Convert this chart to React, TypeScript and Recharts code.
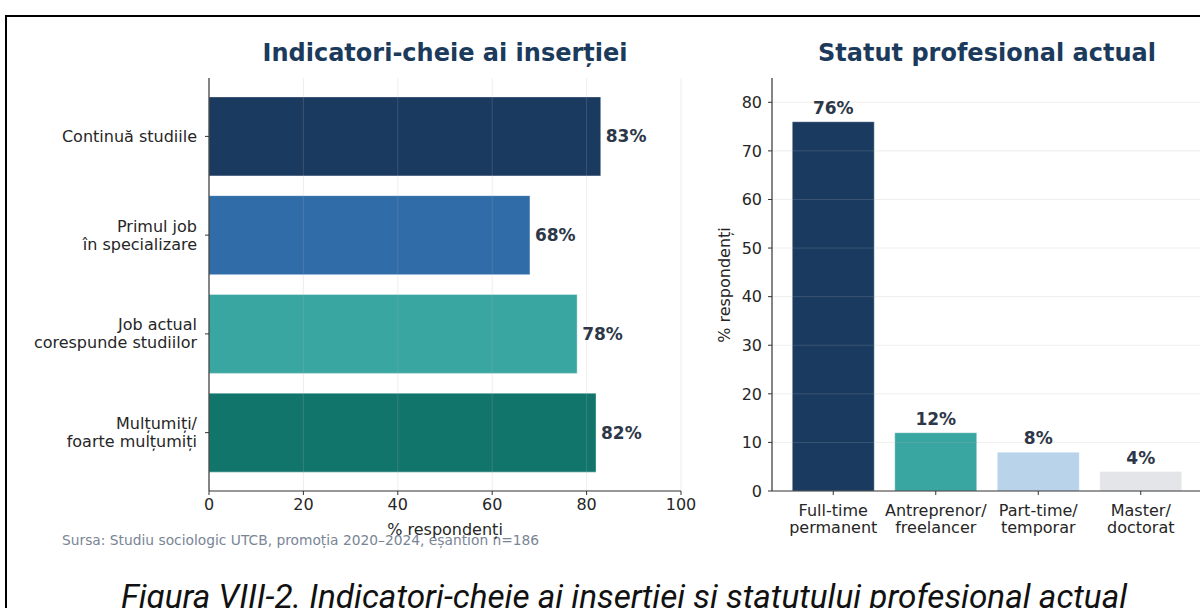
import { BarChart, Bar, XAxis, YAxis, Cell, LabelList, ReferenceLine } from 'recharts'

const INDICATORS = ['Continuă studiile', 'Primul job\nîn specializare', 'Job actual\ncorespunde studiilor', 'Mulțumiți/\nfoarte mulțumiți']
const INDICATOR_VALUES = [83, 68, 78, 82]
const INDICATOR_COLORS = ['#1a3a5f', '#2f6ca8', '#3aa6a1', '#12756c']
const X_TICKS = [0, 20, 40, 60, 80, 100]

const STATUSES = ['Full-time\npermanent', 'Antreprenor/\nfreelancer', 'Part-time/\ntemporar', 'Master/\ndoctorat']
const STATUS_VALUES = [76, 12, 8, 4]
const STATUS_COLORS = ['#1a3a5f', '#3aa6a1', '#b9d3ea', '#e3e5e9']
const Y_TICKS = [0, 10, 20, 30, 40, 50, 60, 70, 80]

const FONT = '"DejaVu Sans", sans-serif'
const INK = '#262626'
const AXIS = '#333333'
const TITLE = '#1b3a5c'
const LABEL = '#2d3748'
const TICK_SIZE = 16

const indicatorData = INDICATORS.map((label, i) => ({ label, value: INDICATOR_VALUES[i], fill: INDICATOR_COLORS[i] }))
const statusData = STATUSES.map((label, i) => ({ label, value: STATUS_VALUES[i], fill: STATUS_COLORS[i] }))

function LeftTick(props: any) {
  const { x, y, payload } = props
  const lines = String(payload.value).split('\n')
  const lh = 18
  const start = y - ((lines.length - 1) * lh) / 2
  return (
    <text x={x} y={start} textAnchor="end" fontFamily={FONT} fontSize={TICK_SIZE} fill={INK}>
      {lines.map((l, i) => (
        <tspan key={i} x={x} y={start + i * lh + 5.5}>{l}</tspan>
      ))}
    </text>
  )
}

function BottomTick(props: any) {
  const { x, y, payload } = props
  const lines = String(payload.value).split('\n')
  const lh = 17
  return (
    <text x={x} y={y} textAnchor="middle" fontFamily={FONT} fontSize={TICK_SIZE} fill={INK}>
      {lines.map((l, i) => (
        <tspan key={i} x={x} y={y + 18.5 + i * lh}>{l}</tspan>
      ))}
    </text>
  )
}

const tickStyle = { fontFamily: FONT, fontSize: TICK_SIZE, fill: INK }
const valueStyle = { fontFamily: FONT, fontSize: 17, fontWeight: 700, fill: LABEL }

function IndicatorsChart() {
  return (
    <BarChart
      width={700}
      height={560}
      data={indicatorData}
      layout="vertical"
      margin={{ top: 78, right: 19, bottom: 39, left: 0 }}
      barCategoryGap="10%"
    >
      <XAxis
        type="number"
        domain={[0, 100]}
        ticks={X_TICKS}
        interval={0}
        height={30}
        tickSize={4}
        tickMargin={4}
        tick={tickStyle}
        axisLine={{ stroke: AXIS, strokeWidth: 1.2 }}
        tickLine={{ stroke: AXIS }}
      />
      <YAxis
        type="category"
        dataKey="label"
        width={209}
        padding={{ top: 9, bottom: 9 }}
        interval={0}
        tickSize={4}
        tickMargin={8}
        tick={<LeftTick />}
        axisLine={{ stroke: AXIS, strokeWidth: 1.2 }}
        tickLine={{ stroke: AXIS }}
      />
      <Bar dataKey="value" isAnimationActive={false} stroke="#ffffff" strokeOpacity={0.5} strokeWidth={0.8}>
        {indicatorData.map((d) => (
          <Cell key={d.label} fill={d.fill} />
        ))}
        <LabelList dataKey="value" position="right" offset={5} formatter={(v: any) => `${v}%`} style={valueStyle} />
      </Bar>
      {X_TICKS.slice(1).map((t) => (
        <ReferenceLine key={t} x={t} stroke="#b0b0b0" strokeOpacity={0.22} strokeWidth={1} />
      ))}
    </BarChart>
  )
}

function StatusChart() {
  return (
    <BarChart
      width={520}
      height={560}
      data={statusData}
      margin={{ top: 78, right: 18, bottom: 39, left: 0 }}
      barCategoryGap="10%"
    >
      <XAxis
        type="category"
        dataKey="label"
        height={30}
        padding={{ left: 10, right: 10 }}
        interval={0}
        tickSize={4}
        tickMargin={2}
        tick={<BottomTick />}
        axisLine={{ stroke: AXIS, strokeWidth: 1.2 }}
        tickLine={{ stroke: AXIS }}
      />
      <YAxis
        type="number"
        domain={[0, 85]}
        ticks={Y_TICKS}
        interval={0}
        width={72}
        tickSize={4}
        tickMargin={6}
        tick={tickStyle}
        axisLine={{ stroke: AXIS, strokeWidth: 1.2 }}
        tickLine={{ stroke: AXIS }}
      />
      <Bar dataKey="value" isAnimationActive={false} stroke="#ffffff" strokeOpacity={0.5} strokeWidth={0.8}>
        {statusData.map((d) => (
          <Cell key={d.label} fill={d.fill} />
        ))}
        <LabelList dataKey="value" position="top" offset={8} formatter={(v: any) => `${v}%`} style={valueStyle} />
      </Bar>
      {Y_TICKS.slice(1).map((t) => (
        <ReferenceLine key={t} y={t} stroke="#b0b0b0" strokeOpacity={0.22} strokeWidth={1} />
      ))}
    </BarChart>
  )
}

const abs = (style: React.CSSProperties): React.CSSProperties => ({ position: 'absolute', whiteSpace: 'nowrap', ...style })

export default function App() {
  return (
    <div style={{ position: 'absolute', left: 0, top: 0, width: 1200, height: 608, overflow: 'hidden', background: '#fff' }}>
      <div style={abs({ left: 5, top: 15, width: 1400, height: 800, border: '2px solid #000' })} />
      <div style={abs({ left: 0, top: 0 })}>
        <IndicatorsChart />
      </div>
      <div style={abs({ left: 700, top: 0 })}>
        <StatusChart />
      </div>
      <div style={abs({ left: 445, top: 53, transform: 'translate(-50%, -50%)', fontFamily: FONT, fontWeight: 700, fontSize: 24, color: TITLE })}>
        Indicatori-cheie ai inserției
      </div>
      <div style={abs({ left: 987, top: 53, transform: 'translate(-50%, -50%)', fontFamily: FONT, fontWeight: 700, fontSize: 24, color: TITLE })}>
        Statut profesional actual
      </div>
      <div style={abs({ left: 62, top: 540, transform: 'translateY(-50%)', fontFamily: FONT, fontSize: 13.8, color: '#7a8595' })}>
        Sursa: Studiu sociologic UTCB, promoția 2020–2024, eșantion n=186
      </div>
      <div style={abs({ left: 445, top: 529, transform: 'translate(-50%, -50%)', fontFamily: FONT, fontSize: TICK_SIZE, color: INK })}>
        % respondenți
      </div>
      <div style={abs({ left: 724, top: 285, transform: 'translate(-50%, -50%) rotate(-90deg)', fontFamily: FONT, fontSize: TICK_SIZE, color: INK })}>
        % respondenți
      </div>
      <div style={abs({ left: 624, top: 596, transform: 'translate(-50%, -50%)', fontFamily: 'Roboto, sans-serif', fontStyle: 'italic', fontSize: 33.3, color: '#111' })}>
        Figura VIII-2. Indicatori-cheie ai inserției și statutului profesional actual
      </div>
    </div>
  )
}
